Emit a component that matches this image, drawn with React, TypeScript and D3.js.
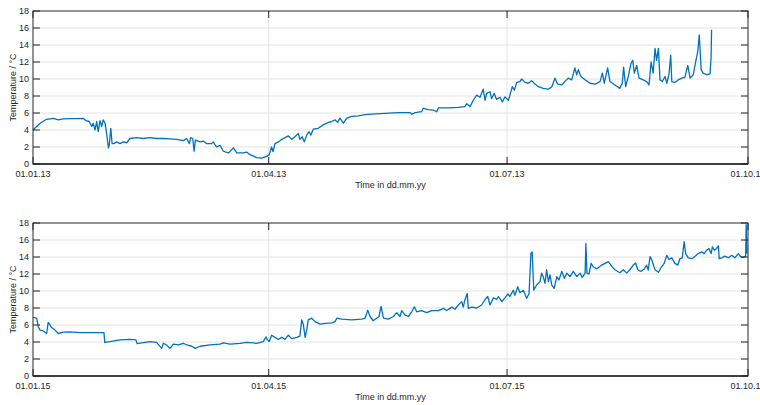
import React from "react";
import * as d3 from "d3";

// Day offsets from 1 Jan of each year, and temperatures (°C)
const topDays = [0,2.7,5.2,7.8,9.7,11.6,14.1,16.7,19.2,20.2,21.5,22.4,23.0,23.7,24.3,24.9,25.6,26.2,26.8,27.5,28.1,28.8,29.1,29.7,30.2,30.9,32.0,33.2,34.5,35.8,37.0,39.6,42.1,44.7,47.2,49.8,52.3,54.9,57.4,58.7,59.7,60.2,61.0,61.5,62.0,63.8,65.0,66.3,68.2,68.8,70.1,71.4,72.7,74.6,76.5,77.8,80.3,81.6,82.9,85.4,87.3,89.2,90.2,91.1,91.7,92.4,93.7,95.0,96.2,97.5,98.8,100.0,101.3,101.9,102.8,103.6,104.5,105.4,106.1,107.0,108.9,110.8,112.8,114.1,115.3,116.3,117.2,118.5,119.8,121.7,124.2,126.8,130.6,134.4,139.5,143.9,144.6,145.9,148.4,149.0,150.9,152.8,154.1,154.8,158.6,162.4,164.9,165.6,166.9,168.1,169.4,170.7,171.9,172.6,173.2,174.5,175.1,176.1,177.0,178.3,179.2,180.2,181.5,182.1,183.0,183.8,184.7,185.9,186.6,187.9,189.1,190.4,191.7,192.9,194.8,196.8,198.1,199.3,200.3,201.9,203.1,204.4,205.7,206.9,207.6,208.2,209.2,210.8,212.7,214.6,216.5,217.4,218.1,219.4,220.3,222.2,224.1,225.0,225.5,226.3,227.3,228.3,229.0,229.6,230.5,231.4,233.0,234.3,235.2,236.0,236.8,237.5,238.1,238.8,239.4,240.3,241.3,242.0,242.8,243.5,243.9,245.1,246.4,247.7,248.9,250.0,250.9,252.1,253.0,253.8,254.4,255.1,255.9,257.2,258.5,258.9,259.1];
const topTemps = [4.0,4.8,5.26,5.37,5.2,5.3,5.33,5.33,5.37,5.1,5.0,4.4,4.8,4.0,5.0,3.8,5.1,4.4,5.2,4.8,3.6,1.9,2.2,4.2,2.4,2.4,2.6,2.4,2.6,2.5,3.0,3.1,3.0,3.1,3.0,3.0,2.95,2.9,2.75,3.0,2.4,3.1,3.0,1.5,2.8,2.6,2.7,2.4,2.4,2.6,2.0,2.2,1.5,1.3,1.9,1.3,1.3,1.4,1.1,0.75,0.7,0.9,1.1,2.0,1.45,2.4,2.6,2.9,3.1,3.3,2.9,3.2,3.6,2.9,3.2,2.6,3.4,3.8,3.4,4.1,4.2,4.6,4.9,5.0,5.2,4.9,5.4,4.8,5.4,5.6,5.65,5.8,5.9,5.95,6.05,6.05,5.85,6.05,6.15,6.55,6.4,6.35,6.15,6.6,6.6,6.65,6.75,7.1,6.75,7.5,8.1,7.85,8.8,7.5,8.3,8.5,7.7,8.3,7.6,7.85,7.3,7.9,7.5,8.1,9.1,8.7,9.6,9.7,10.0,9.6,9.5,9.8,9.4,9.1,8.9,8.8,9.1,10.1,9.4,9.3,9.7,10.1,9.9,11.3,10.5,11.1,10.3,9.9,9.5,9.4,9.7,10.7,9.5,11.3,9.7,9.3,8.9,9.5,11.4,9.1,10.3,11.8,12.2,10.7,11.6,10.1,9.9,9.7,9.3,12.0,10.7,13.6,12.2,13.6,9.9,9.7,10.3,9.5,10.5,12.8,9.7,9.6,9.9,10.1,10.2,11.6,10.1,10.5,12.0,13.2,15.2,11.1,10.7,10.5,10.6,12.5,15.8];

const bottomDays = [0,1.4,2.0,2.7,3.9,5.2,5.8,6.5,7.1,8.4,9.7,11.6,14.1,17.9,21.8,27.1,27.4,29.4,33.2,37.0,39.3,39.8,41.5,44.7,47.2,49.1,49.8,51.0,52.3,53.6,55.5,57.4,58.7,60.6,61.9,63.8,67.6,71.4,72.7,75.2,79.0,81.6,85.4,87.9,89.0,89.5,90.2,91.1,92.4,93.7,95.0,96.2,97.5,98.8,100.7,101.9,102.6,103.2,103.9,104.5,105.1,106.4,107.7,109.6,111.5,114.1,115.3,116.0,117.9,121.7,125.5,126.8,127.8,128.7,129.9,131.2,132.1,132.9,133.8,135.7,137.6,138.9,140.1,140.8,142.0,143.3,144.6,145.6,146.5,148.4,150.3,152.2,154.8,156.7,158.0,159.9,161.1,162.4,163.7,164.3,164.9,165.8,166.2,167.5,169.4,171.3,172.6,173.6,174.5,175.8,177.0,177.7,179.0,180.2,181.3,182.1,183.4,184.0,185.1,185.9,187.2,188.5,189.4,190.1,190.6,191.2,192.3,193.6,194.2,194.8,195.5,196.1,196.8,197.4,198.1,199.0,200.0,200.8,201.9,202.9,203.8,205.0,206.3,207.6,208.9,209.7,210.8,211.1,211.5,212.3,213.1,213.9,215.2,217.1,218.4,219.7,221.0,222.2,224.1,225.4,226.7,227.9,229.2,230.1,230.9,232.1,233.4,234.3,234.9,235.6,236.2,237.5,238.8,240.0,241.0,242.0,242.8,243.9,245.1,246.2,247.0,247.9,248.6,249.2,250.2,251.5,252.8,254.0,255.3,256.3,257.2,258.1,258.9,259.4,260.1,261.0,261.7,262.0,263.0,264.2,265.5,266.8,268.0,269.3,270.3,271.2,272.1,272.3,272.6];
const bottomTemps = [6.9,6.8,5.8,5.4,5.3,5.0,6.3,6.0,5.7,5.4,5.0,5.15,5.2,5.1,5.1,5.1,3.95,4.05,4.25,4.3,4.25,3.8,3.9,4.05,3.95,3.25,3.85,3.65,3.25,3.75,3.65,3.85,3.65,3.5,3.25,3.5,3.65,3.75,3.9,3.75,3.85,3.95,3.85,4.05,4.6,4.25,4.05,4.8,4.55,4.3,4.55,4.3,4.8,4.4,4.55,4.7,6.6,6.1,4.55,5.4,6.6,6.8,6.4,6.1,6.2,6.25,6.4,6.8,6.7,6.6,6.7,6.8,7.75,7.0,6.5,6.8,7.0,8.2,6.8,6.7,7.0,7.45,7.0,7.7,7.2,7.0,7.55,8.15,7.55,7.7,7.45,7.7,7.7,7.95,7.7,8.1,7.85,8.35,8.75,8.1,8.95,9.7,7.95,8.1,8.0,8.35,9.0,9.35,8.35,9.2,9.0,9.35,8.75,9.2,9.65,9.35,10.1,9.5,10.5,9.8,10.1,9.15,9.7,14.4,14.6,10.1,10.7,11.1,12.1,11.7,10.9,12.5,11.1,11.9,10.7,10.3,11.7,11.3,12.3,11.5,12.1,11.7,12.3,11.7,12.1,11.6,12.1,15.6,12.1,12.0,13.25,12.85,12.6,13.05,13.25,13.45,12.9,12.5,12.15,12.5,12.1,12.5,13.05,13.3,12.5,12.3,12.6,13.05,12.45,14.05,13.7,12.5,12.2,12.85,13.25,14.2,13.7,13.9,13.25,13.05,13.8,13.9,15.8,14.4,13.9,13.8,14.1,14.4,14.6,14.4,14.8,15.0,14.4,15.2,14.8,15.0,15.3,13.8,13.9,14.1,13.9,14.2,13.9,14.4,14.0,13.95,14.1,17.8,14.4];

const yTicks = [0, 2, 4, 6, 8, 10, 12, 14, 16, 18];
const topXTickLabels = ["01.01.13", "01.04.13", "01.07.13", "01.10.13"];
const bottomXTickLabels = ["01.01.15", "01.04.15", "01.07.15", "01.10.15"];
const yLabel = "Temperature / °C";
const xLabel = "Time in dd.mm.yy";

const DAY = 86400000;
const parseLabel = (s: string) => {
  const [d, m, y] = s.split(".").map(Number);
  return new Date(Date.UTC(2000 + y, m - 1, d));
};

const FONT = "'Liberation Sans', Arial, Helvetica, sans-serif";
const AX = "#262626";
const GRID = "#e3e3e3";
const LINE = "#0072BD";

type PanelProps = {
  top: number;
  days: number[];
  temps: number[];
  tickLabels: string[];
};

function Panel({ top, days, temps, tickLabels }: PanelProps) {
  const left = 33, right = 748, height = 153;
  const bottom = top + height;
  const tickDates = tickLabels.map(parseLabel);
  const start = tickDates[0];
  const x = d3.scaleUtc().domain([start, tickDates[tickDates.length - 1]]).range([left, right]);
  const y = d3.scaleLinear().domain([0, 18]).range([bottom, top]);
  const pts: [Date, number][] = days.map((d, i) => [new Date(start.getTime() + d * DAY), temps[i]]);
  const line = d3.line<[Date, number]>().x((p) => x(p[0])).y((p) => y(p[1]));
  const tl = 7;
  return (
    <g>
      {yTicks.filter((t) => t > 0 && t < 18).map((t) => (
        <line key={"gy" + t} x1={left} x2={right} y1={y(t)} y2={y(t)} stroke={GRID} strokeWidth={1} />
      ))}
      {tickDates.slice(1, -1).map((d, i) => (
        <line key={"gx" + i} x1={x(d)} x2={x(d)} y1={top} y2={bottom} stroke={GRID} strokeWidth={1} />
      ))}
      <path d={line(pts) || ""} fill="none" stroke={LINE} strokeWidth={1.3} strokeLinejoin="round" />
      <rect x={left} y={top} width={right - left} height={height} fill="none" stroke={AX} strokeWidth={1} />
      <line x1={left} x2={right} y1={bottom} y2={bottom} stroke={AX} strokeWidth={1.5} />
      {yTicks.map((t) => (
        <g key={"ty" + t}>
          <line x1={left} x2={left + tl} y1={y(t)} y2={y(t)} stroke={AX} />
          <line x1={right} x2={right - tl} y1={y(t)} y2={y(t)} stroke={AX} />
          <text x={left - 4} y={y(t)} dy="0.35em" textAnchor="end" fontSize={9} fill={AX} fontFamily={FONT}>
            {t}
          </text>
        </g>
      ))}
      {tickDates.map((d, i) => (
        <g key={"tx" + i}>
          <line x1={x(d)} x2={x(d)} y1={bottom} y2={bottom - tl} stroke={AX} />
          <line x1={x(d)} x2={x(d)} y1={top} y2={top + tl} stroke={AX} />
          <text x={x(d)} y={bottom + 13} textAnchor="middle" fontSize={9} fill={AX} fontFamily={FONT}>
            {tickLabels[i]}
          </text>
        </g>
      ))}
      <text x={(left + right) / 2} y={bottom + 24} textAnchor="middle" fontSize={9} fill={AX} fontFamily={FONT}>
        {xLabel}
      </text>
      <text
        transform={`translate(16,${(top + bottom) / 2}) rotate(-90)`}
        textAnchor="middle"
        fontSize={9}
        fill={AX}
        fontFamily={FONT}
      >
        {yLabel}
      </text>
    </g>
  );
}

export default function App() {
  return (
    <svg width={760} height={405} style={{ position: "absolute", left: 0, top: 0, background: "#fff" }}>
      <rect width={760} height={405} fill="#fff" />
      <Panel top={11} days={topDays} temps={topTemps} tickLabels={topXTickLabels} />
      <Panel top={223} days={bottomDays} temps={bottomTemps} tickLabels={bottomXTickLabels} />
    </svg>
  );
}
